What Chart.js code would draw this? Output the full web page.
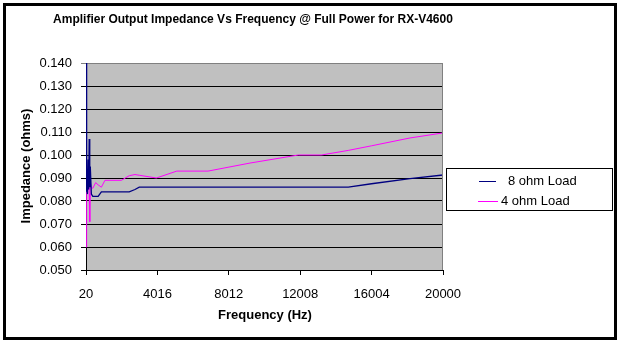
<!DOCTYPE html>
<html>
<head>
<meta charset="utf-8">
<script src="https://cdn.jsdelivr.net/npm/chart.js@4.4.1/dist/chart.umd.min.js"></script>
<style>
  html, body { margin: 0; padding: 0; background: #fff; }
  #wrap { width: 620px; height: 342px; }
</style>
</head>
<body>
<div id="wrap"><canvas id="myChart" width="620" height="342"></canvas></div>
<script>
// frequency (Hz) and impedance (ohms)
const freqs = [20, 40, 70, 100, 140, 170, 200, 230, 260, 320, 400, 560, 700, 880, 1080,
               2000, 2440, 2760, 3000, 3960, 5100, 6850, 9200, 11900, 13200, 14700,
               16000, 18150, 20000];
const load8 = [0.140, 0.084, 0.086, 0.083, 0.098, 0.085, 0.107, 0.086, 0.095, 0.083, 0.082,
               0.082, 0.082, 0.084, 0.084, 0.084, 0.084, 0.085, 0.086, 0.086, 0.086, 0.086,
               0.086, 0.086, 0.086, 0.086, 0.0875, 0.0897, 0.0913];
const load4 = [0.060, 0.092, 0.084, 0.088, 0.085, 0.089, 0.083, 0.071, 0.088, 0.086, 0.0855,
               0.088, 0.087, 0.086, 0.089, 0.089, 0.091, 0.0915, 0.0912, 0.090, 0.093, 0.093,
               0.0965, 0.100, 0.100, 0.102, 0.104, 0.1074, 0.1096];
const seriesNames = ['8 ohm Load', '4 ohm Load'];
const seriesColors = ['#000080', '#ff00ff'];
const xTicks = [20, 4016, 8012, 12008, 16004, 20000];

const FONT = '"Liberation Sans", Arial, sans-serif';

const excelLook = {
  id: 'excelLook',
  beforeDraw(chart) {
    const ctx = chart.ctx;
    const a = chart.chartArea;
    ctx.save();
    ctx.fillStyle = '#fff';
    ctx.fillRect(0, 0, chart.width, chart.height);
    ctx.fillStyle = '#c0c0c0';
    ctx.fillRect(a.left, a.top, a.right - a.left, a.bottom - a.top);
    ctx.restore();
  },
  afterDraw(chart) {
    const ctx = chart.ctx;
    const a = chart.chartArea;
    ctx.save();
    // plot border on the right
    ctx.strokeStyle = '#808080';
    ctx.lineWidth = 1;
    ctx.beginPath();
    ctx.moveTo(a.right - 0.5, a.top);
    ctx.lineTo(a.right - 0.5, a.bottom);
    ctx.stroke();

    // titles
    ctx.fillStyle = '#000';
    ctx.textAlign = 'center';
    ctx.textBaseline = 'middle';
    ctx.font = 'bold 12px ' + FONT;
    ctx.fillText('Amplifier Output Impedance Vs Frequency @ Full Power for RX-V4600', 253, 20);
    ctx.font = 'bold 13px ' + FONT;
    ctx.fillText('Frequency (Hz)', 265, 315);
    ctx.save();
    ctx.translate(26, 166);
    ctx.rotate(-Math.PI / 2);
    ctx.fillText('Impedance (ohms)', 0, 0);
    ctx.restore();

    // legend box
    ctx.fillStyle = '#fff';
    ctx.fillRect(446, 168, 166, 42);
    ctx.strokeStyle = '#000';
    ctx.strokeRect(446.5, 168.5, 166, 42);
    const rows = [
      { y: 181, x0: 479, x1: 496, tx: 508 },
      { y: 201, x0: 478, x1: 498, tx: 501 }
    ];
    ctx.font = '13px ' + FONT;
    ctx.textAlign = 'left';
    chart.data.datasets.forEach((ds, i) => {
      const r = rows[i];
      ctx.strokeStyle = ds.borderColor;
      ctx.lineWidth = 1;
      ctx.beginPath();
      ctx.moveTo(r.x0, r.y + 0.5);
      ctx.lineTo(r.x1, r.y + 0.5);
      ctx.stroke();
      ctx.fillStyle = '#000';
      ctx.fillText(ds.label, r.tx, r.y);
    });

    // outer frame
    ctx.strokeStyle = '#000';
    ctx.lineWidth = 3;
    ctx.strokeRect(4.5, 4.5, 611, 334);
    ctx.restore();
  }
};

const datasets = [load8, load4].map((vals, i) => ({
  label: seriesNames[i],
  data: freqs.map((f, j) => ({ x: f, y: vals[j] })),
  borderColor: seriesColors[i],
  backgroundColor: seriesColors[i],
  borderWidth: i === 0 ? 1.3 : 1,
  pointRadius: 0,
  tension: 0,
  fill: false
}));

const config = {
  type: 'line',
  data: { datasets: datasets },
  options: {
    responsive: false,
    animation: false,
    layout: { padding: { left: 0, top: 63, right: 177, bottom: 0 } },
    plugins: {
      legend: { display: false },
      title: { display: false },
      tooltip: { enabled: false }
    },
    scales: {
      x: {
        type: 'linear',
        min: 20,
        max: 20000,
        afterBuildTicks: function(scale) {
          scale.ticks = xTicks.map(v => ({ value: v }));
        },
        afterFit: function(scale) { scale.height = 72; },
        ticks: {
          autoSkip: false,
          maxRotation: 0,
          padding: 12,
          color: '#000',
          font: { family: FONT, size: 13 },
          callback: function(v) { return String(v); }
        },
        grid: { drawOnChartArea: false, drawTicks: true, tickLength: 5, color: '#000' },
        border: { color: '#000', width: 1 }
      },
      y: {
        min: 0.05,
        max: 0.14,
        afterFit: function(scale) { scale.width = 86; },
        ticks: {
          stepSize: 0.01,
          padding: 9,
          color: '#000',
          font: { family: FONT, size: 13 },
          callback: function(v) { return v.toFixed(3); }
        },
        grid: {
          drawTicks: true,
          tickLength: 5,
          color: function(c) {
            return (c.tick && c.tick.value > 0.1395) ? '#808080' : '#000';
          }
        },
        border: { color: '#000', width: 1 }
      }
    }
  },
  plugins: [excelLook]
};

const ctx = document.getElementById('myChart').getContext('2d');
new Chart(ctx, config);
</script>
</body>
</html>
